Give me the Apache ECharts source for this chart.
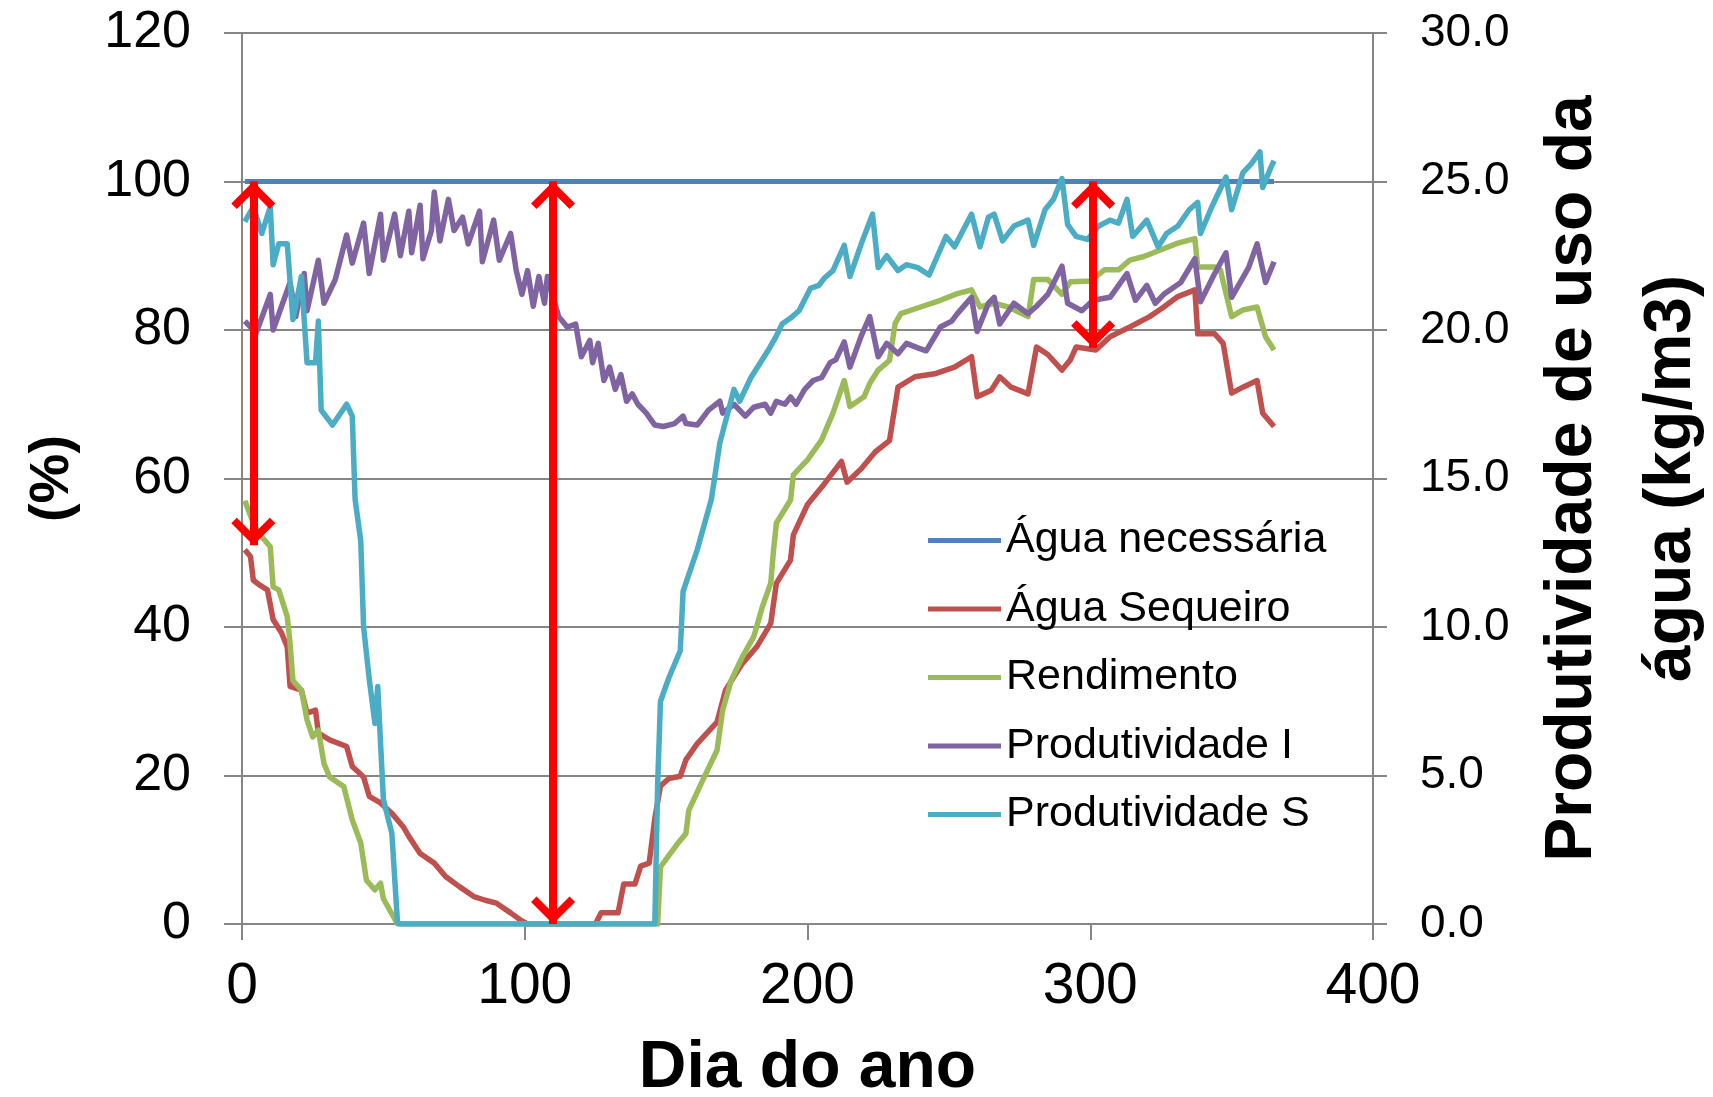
<!DOCTYPE html>
<html>
<head>
<meta charset="utf-8">
<script src="https://cdn.jsdelivr.net/npm/echarts@6/dist/echarts.min.js"></script>
<style>html,body{margin:0;padding:0;background:#fff;}</style>
</head>
<body>
<div id="chart" style="width:1713px;height:1097px;"></div>
<script>
// [dia, %]
const aguaNecessaria = [[1, 100], [365, 100]];
const aguaSequeiro = [[1,50.4],[3,49.5],[4,46.3],[6,45.7],[9,45.0],[11,41.0],[14,39.2],[16,37.3],[17,32.0],[21,31.5],[23,28.4],[26,28.8],[27,25.7],[31,24.8],[37,23.9],[39,21.2],[43,19.8],[45,17.2],[49,16.3],[53,14.9],[57,13.1],[59,11.8],[63,9.5],[68,8.2],[72,6.4],[77,5.0],[82,3.7],[86,3.2],[90,2.8],[95,1.5],[99,0.4],[101,0],[125,0],[127,1.5],[133,1.5],[135,5.4],[139,5.4],[141,7.8],[144,8.2],[146,14.2],[148,18.6],[151,19.6],[155,19.9],[157,22.1],[161,24.3],[168,27.2],[171,31.5],[177,35.1],[182,37.3],[187,40.5],[189,45.9],[194,49.0],[195,52.4],[200,56.5],[206,59.3],[212,62.3],[214,59.5],[219,61.3],[224,63.6],[229,65.1],[232,72.3],[238,73.7],[245,74.1],[252,75.0],[258,76.4],[260,71.0],[265,71.9],[268,73.7],[272,72.3],[278,71.4],[281,77.7],[285,76.7],[290,74.6],[293,76.0],[295,77.7],[302,77.3],[307,79.1],[314,80.4],[321,81.8],[326,83.1],[331,84.5],[337,85.4],[338,79.5],[344,79.5],[347,78.2],[350,71.5],[354,72.3],[359,73.2],[361,68.8],[365,67.0]];
const rendimento = [[1,57],[4,54],[6,52.6],[10,50.8],[11,45.4],[13,45.0],[16,41.4],[17,37.8],[18,32.8],[21,31.5],[23,27.5],[25,25.2],[27,26.1],[29,21.6],[31,19.8],[36,18.5],[39,14.0],[42,10.9],[44,5.9],[47,4.6],[49,5.5],[50,3.4],[55,0],[147,0],[148,7.7],[154,10.8],[157,12.2],[158,15.3],[163,19.4],[168,23.4],[170,28.8],[173,32.8],[177,36.0],[181,38.7],[184,42.7],[187,45.9],[188,50.4],[189,54.0],[194,57.1],[195,60.5],[200,62.5],[205,65.2],[209,68.8],[213,73.2],[215,69.7],[220,71.0],[222,72.8],[225,74.6],[229,75.9],[231,80.9],[233,82.2],[240,83.1],[247,84.0],[253,84.9],[258,85.4],[261,83.1],[266,83.6],[271,83.1],[278,81.8],[280,86.8],[285,86.8],[290,84.8],[293,86.5],[300,86.6],[305,88.1],[310,88.1],[314,89.4],[319,89.9],[325,90.8],[331,91.7],[337,92.3],[338,88.5],[344,88.5],[346,88.1],[350,81.8],[354,82.7],[359,83.1],[362,79.1],[365,77.3]];
// [dia, kg/m3]
const produtividadeI = [[1,20.3],[5,19.9],[10,21.2],[11,20.0],[17,21.6],[19,20.45],[22,21.9],[23,20.65],[27,22.35],[29,20.9],[33,21.7],[37,23.2],[39,22.25],[43,23.6],[45,21.9],[49,23.9],[50,22.35],[54,23.9],[56,22.5],[59,24.0],[60,22.6],[63,24.2],[64,22.4],[67,23.35],[68,24.65],[70,23.0],[73,24.4],[75,23.35],[78,23.8],[80,22.9],[84,24.0],[85,22.3],[89,23.7],[91,22.35],[95,23.25],[97,22.0],[99,21.2],[101,22.0],[103,20.8],[105,21.8],[107,20.9],[108,21.8],[112,20.45],[115,20.1],[118,20.2],[120,19.1],[123,19.65],[124,18.9],[126,19.55],[128,18.3],[130,18.75],[132,18.0],[134,18.5],[136,17.6],[138,17.85],[140,17.5],[143,17.2],[146,16.8],[149,16.75],[153,16.85],[156,17.1],[157,16.85],[161,16.8],[165,17.3],[169,17.6],[170,17.2],[174,17.5],[178,17.1],[181,17.4],[185,17.5],[187,17.2],[189,17.6],[192,17.5],[194,17.75],[196,17.5],[199,18.0],[202,18.3],[205,18.4],[208,18.9],[210,19.0],[213,19.6],[215,18.75],[219,19.8],[222,20.45],[225,19.1],[228,19.55],[232,19.2],[235,19.55],[239,19.4],[242,19.3],[247,20.1],[251,20.3],[253,20.55],[258,21.1],[260,19.95],[264,20.9],[266,21.1],[268,20.2],[273,20.9],[278,20.55],[281,20.8],[285,21.2],[290,22.15],[292,20.9],[297,20.65],[301,21.0],[307,21.1],[313,21.9],[316,21.0],[320,21.5],[323,20.9],[326,21.2],[332,21.6],[337,22.4],[339,20.95],[344,21.9],[348,22.6],[350,21.1],[356,22.1],[359,22.9],[362,21.6],[365,22.3]];
const produtividadeS = [[1,23.65],[4,24.15],[7,23.25],[10,24.15],[11,22.2],[13,22.9],[16,22.9],[18,20.35],[21,21.8],[22,20.35],[23,18.9],[26,18.9],[27,20.3],[28,17.3],[32,16.8],[37,17.5],[39,17.1],[40,14.3],[42,12.9],[43,10.0],[45,8.25],[47,6.75],[48,8.0],[50,4.2],[53,3.05],[55,0.05],[56,0],[146,0],[147,4.7],[148,7.5],[151,8.3],[155,9.2],[156,11.2],[161,12.6],[166,14.3],[169,16.2],[174,18.0],[176,17.6],[180,18.4],[186,19.3],[189,19.8],[191,20.2],[194,20.4],[197,20.65],[201,21.4],[204,21.5],[206,21.75],[209,22.0],[213,22.85],[215,21.8],[219,22.9],[223,23.9],[225,22.1],[228,22.5],[232,22.0],[235,22.2],[239,22.1],[243,21.85],[246,22.5],[249,23.15],[252,22.8],[255,23.35],[258,23.9],[261,22.8],[264,23.8],[266,23.9],[269,23.0],[273,23.5],[278,23.7],[280,22.85],[284,24.05],[287,24.4],[290,25.1],[292,23.55],[295,23.15],[299,23.05],[303,23.5],[307,23.7],[310,23.6],[313,24.4],[315,23.15],[320,23.7],[324,22.8],[327,23.25],[331,23.5],[335,24.05],[338,24.3],[339,23.25],[343,24.15],[348,25.15],[350,24.05],[354,25.3],[357,25.6],[360,26.0],[361,24.8],[364,25.5],[365,25.7]];

// setas vermelhas (dia, topo %, base %)
const setaDias = [4, 110, 301];
const setaTopo = [100, 100, 100];
const setaBase = [51, 0, 77.6];

const nomes = ['Água necessária', 'Água Sequeiro', 'Rendimento', 'Produtividade I', 'Produtividade S'];
const cores = ['#4F81BD', '#C0504D', '#9BBB59', '#8064A2', '#4BACC6'];

const fonte = 'Liberation Sans, Arial, sans-serif';
const cinza = '#868686';
const chevron = 'path://M0,-15 Z M0,0 L12,12 L9,15 L0,6 L-9,15 L-12,12 Z';

function serie (i, data, eixo, largura) {
  return {
    name: nomes[i],
    type: 'line',
    data: data,
    yAxisIndex: eixo,
    symbol: 'none',
    lineStyle: { color: cores[i], width: largura, join: 'round' },
    itemStyle: { color: cores[i] },
    z: 2 + i * 0.1
  }
}

const chart = echarts.init(document.getElementById('chart'))
chart.setOption({
  animation: false,
  backgroundColor: '#fff',
  textStyle: { fontFamily: fonte },
  grid: { left: 242, right: 340, top: 33, bottom: 173, containLabel: false, outerBoundsMode: 'none' },
  legend: {
    data: nomes,
    orient: 'vertical',
    left: 923,
    top: 514,
    itemWidth: 73,
    itemHeight: 5,
    itemGap: 25.5,
    icon: 'rect',
    textStyle: { fontSize: 43, color: '#000', fontFamily: fonte, lineHeight: 43 }
  },
  xAxis: {
    type: 'value', min: 0, max: 400, interval: 100,
    name: 'Dia do ano', nameLocation: 'middle', nameGap: 112,
    nameTextStyle: { fontSize: 66, fontWeight: 'bold', color: '#000', fontFamily: fonte },
    axisLine: { onZero: false, lineStyle: { color: cinza, width: 2 } },
    axisTick: { show: true, length: 16, lineStyle: { color: cinza, width: 2 } },
    axisLabel: { fontSize: 57, color: '#000', margin: 35 },
    splitLine: { show: false }
  },
  yAxis: [
    {
      type: 'value', min: 0, max: 120, interval: 20, position: 'left',
      name: '(%)', nameLocation: 'middle', nameGap: 161, nameRotate: 90,
      nameTextStyle: { fontSize: 56, fontWeight: 'bold', color: '#000', fontFamily: fonte },
      axisLine: { show: true, lineStyle: { color: cinza, width: 2 } },
      axisTick: { show: true, length: 18, lineStyle: { color: cinza, width: 2 } },
      axisLabel: { fontSize: 52, color: '#000', margin: 51 },
      splitLine: { show: true, lineStyle: { color: cinza, width: 2 } }
    },
    {
      type: 'value', min: 0, max: 30, interval: 5, position: 'right',
      name: 'Produtividade de uso da\nágua (kg/m3)', nameLocation: 'middle', nameGap: 150, nameRotate: 90,
      nameTextStyle: { fontSize: 66, fontWeight: 'bold', color: '#000', fontFamily: fonte, lineHeight: 99 },
      axisLine: { show: true, lineStyle: { color: cinza, width: 2 } },
      axisTick: { show: true, length: 14, lineStyle: { color: cinza, width: 2 } },
      axisLabel: { fontSize: 46, color: '#000', margin: 47, formatter: function (v) { return v.toFixed(1) } },
      splitLine: { show: false }
    }
  ],
  series: [
    serie(0, aguaNecessaria, 0, 5),
    serie(1, aguaSequeiro, 0, 5.5),
    serie(2, rendimento, 0, 5.5),
    serie(3, produtividadeI, 1, 5.5),
    serie(4, produtividadeS, 1, 5.5),
    {
      name: 'setas',
      type: 'line',
      data: [],
      yAxisIndex: 0,
      z: 5,
      markLine: {
        silent: true,
        animation: false,
        symbol: [chevron, chevron],
        symbolSize: [44, 55],
        label: { show: false },
        lineStyle: { color: '#FF0000', width: 8, type: 'solid' },
        data: setaDias.map(function (d, i) {
          return [{ coord: [d, setaTopo[i]] }, { coord: [d, setaBase[i]] }]
        })
      }
    }
  ]
})
</script>
</body>
</html>
